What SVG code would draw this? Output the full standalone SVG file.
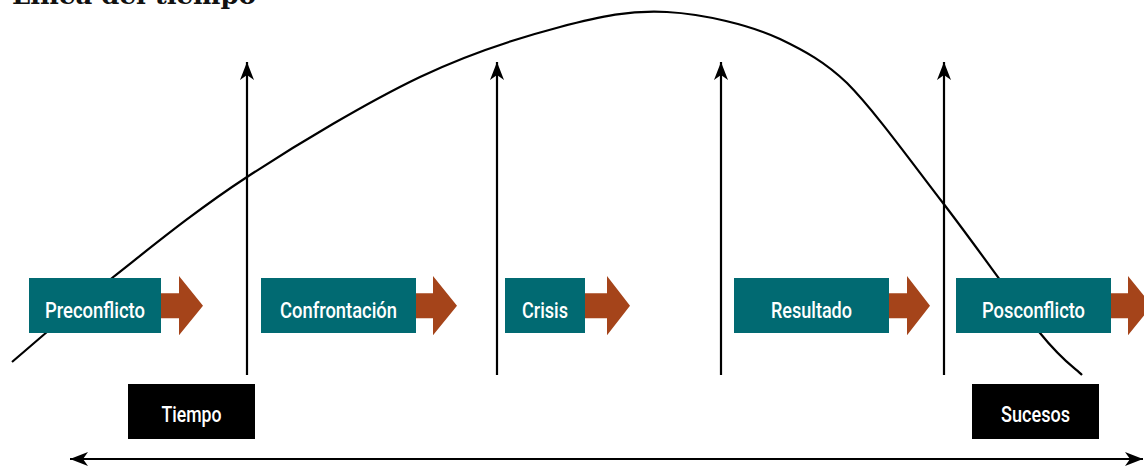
<svg xmlns="http://www.w3.org/2000/svg" width="1144" height="466" viewBox="0 0 1144 466">
<style>
.title{font-family:"DejaVu Serif","Liberation Serif",serif;font-weight:bold;font-size:25px;fill:#111}
.lbl{font-family:Roboto,"Liberation Sans",sans-serif;font-size:22.5px;font-weight:500;fill:#ffffff;text-anchor:middle}
.phase{fill:#016a72}
.blk{fill:#000000}
.go{fill:#a5441a}
.ln{stroke:#000;stroke-width:2.2;fill:none}
</style>
<defs>
<marker id="ah" viewBox="0 0 20 14" refX="18" refY="7" markerWidth="20" markerHeight="14" markerUnits="userSpaceOnUse" orient="auto-start-reverse">
<path d="M0,0 L18,7 L0,14 L5,7 z" fill="#000"/>
</marker>
</defs>
<text class="title" x="12" y="4" textLength="244" lengthAdjust="spacingAndGlyphs">Línea del tiempo</text>
<g id="curve">
<path class="ln" d="M12,362 C28.7,348 72.8,308.8 112,278 C151.2,247.2 195.7,210.5 247,177 C298.3,143.5 367.8,102 420,77 C472.2,52 518.8,37.8 560,27 C601.2,16.2 630.3,10 667,12 C703.7,14 750,25 780,39 C805,51 825,62 847,83 C874.2,110.3 910.8,161.3 943,203 C975.2,244.7 1016.8,304.3 1040,333 C1063.2,361.7 1075,368 1082,375"/>
</g>
<g id="connectors">
<line class="ln" x1="247" y1="375" x2="247" y2="62" marker-end="url(#ah)"/>
<line class="ln" x1="497" y1="375" x2="497" y2="62" marker-end="url(#ah)"/>
<line class="ln" x1="721" y1="375" x2="721" y2="62" marker-end="url(#ah)"/>
<line class="ln" x1="944" y1="375" x2="944" y2="62" marker-end="url(#ah)"/>
<line class="ln" x1="70" y1="459" x2="1143" y2="459" marker-start="url(#ah)" marker-end="url(#ah)"/>
</g>
<g id="preconflicto">
<polygon class="go" points="160,293.3 179,293.3 179,276 203,305.7 179,335.3 179,318.3 160,318.3"/>
<rect class="phase" x="29" y="278" width="132" height="55"/>
<text class="lbl" x="95" y="318" textLength="100" lengthAdjust="spacingAndGlyphs">Preconflicto</text>
</g>
<g id="confrontacion">
<polygon class="go" points="415,293.3 433,293.3 433,276 457,305.7 433,335.3 433,318.3 415,318.3"/>
<rect class="phase" x="261" y="278" width="155" height="55"/>
<text class="lbl" x="338.5" y="318" textLength="117" lengthAdjust="spacingAndGlyphs">Confrontación</text>
</g>
<g id="crisis">
<polygon class="go" points="584,293.3 607,293.3 607,276 630,305.7 607,335.3 607,318.3 584,318.3"/>
<rect class="phase" x="505" y="278" width="80" height="55"/>
<text class="lbl" x="545" y="318" textLength="46" lengthAdjust="spacingAndGlyphs">Crisis</text>
</g>
<g id="resultado">
<polygon class="go" points="888,293.3 907,293.3 907,276 930,305.7 907,335.3 907,318.3 888,318.3"/>
<rect class="phase" x="734" y="278" width="155" height="55"/>
<text class="lbl" x="811.5" y="318" textLength="81" lengthAdjust="spacingAndGlyphs">Resultado</text>
</g>
<g id="posconflicto">
<polygon class="go" points="1110,293.3 1128,293.3 1128,276 1152,305.7 1128,335.3 1128,318.3 1110,318.3"/>
<rect class="phase" x="956" y="278" width="155" height="55"/>
<text class="lbl" x="1033.5" y="318" textLength="103" lengthAdjust="spacingAndGlyphs">Posconflicto</text>
</g>
<g id="tiempo">
<rect class="blk" x="128" y="384" width="127" height="55"/>
<text class="lbl" x="191.5" y="422" textLength="60" lengthAdjust="spacingAndGlyphs">Tiempo</text>
</g>
<g id="sucesos">
<rect class="blk" x="972" y="384" width="127" height="55"/>
<text class="lbl" x="1035.5" y="422" textLength="69" lengthAdjust="spacingAndGlyphs">Sucesos</text>
</g>
</svg>
